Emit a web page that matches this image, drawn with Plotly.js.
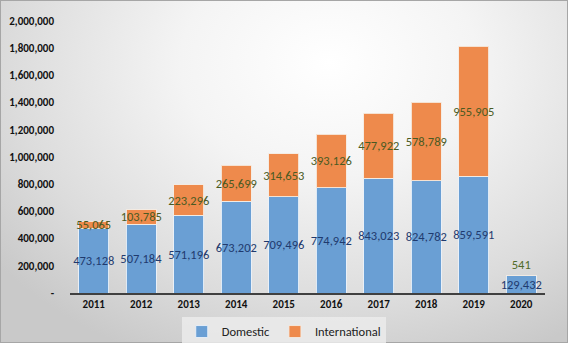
<!DOCTYPE html>
<html>
<head>
<meta charset="utf-8">
<script src="https://cdn.plot.ly/plotly-3.0.1.min.js"></script>
<style>
  html, body { margin: 0; padding: 0; }
  #chart {
    width: 568px; height: 343px; box-sizing: border-box;
    border: 1px solid #a6a6a6;
    background: radial-gradient(ellipse 75% 95% at 58% 18%, #ffffff 0%, #f4f4f4 35%, #dcdcdc 75%, #c9c9c9 100%);
  }
</style>
</head>
<body>
<div id="chart"></div>
<script>
const years = ['2011','2012','2013','2014','2015','2016','2017','2018','2019','2020'];
const domestic = [473128, 507184, 571196, 673202, 709496, 774942, 843023, 824782, 859591, 129432];
const international = [55065, 103785, 223296, 265699, 314653, 393126, 477922, 578789, 955905, 541];
const yTickVals = [0, 200000, 400000, 600000, 800000, 1000000, 1200000, 1400000, 1600000, 1800000, 2000000];
const yTickText = ['-', '200,000', '400,000', '600,000', '800,000', '1,000,000', '1,200,000', '1,400,000', '1,600,000', '1,800,000', '2,000,000'];

const fmt = v => v.toLocaleString('en-US');
const font = 'Carlito, Calibri, "Open Sans", "Liberation Sans", sans-serif';

const traces = [
  {
    type: 'bar', name: 'Domestic', x: years, y: domestic,
    text: domestic.map(fmt), textposition: 'inside', insidetextanchor: 'middle', textangle: 0,
    constraintext: 'none', cliponaxis: false,
    textfont: { family: font, size: 12.5, color: '#1f3a6e' },
    marker: { color: '#6a9fd4', line: { color: 'rgba(235,242,250,0.9)', width: 1 } },
    hoverinfo: 'none'
  },
  {
    type: 'bar', name: 'International', x: years, y: international,
    text: international.map(fmt),
    textposition: international.map((v, i) => i === international.length - 1 ? 'outside' : 'inside'),
    insidetextanchor: 'middle', textangle: 0, constraintext: 'none', cliponaxis: false,
    textfont: { family: font, size: 12.5, color: '#4a5a22' },
    outsidetextfont: { family: font, size: 12.5, color: '#4f6a28' },
    marker: { color: '#ee8a4c', line: { color: 'rgba(245,235,225,0.9)', width: 1 } },
    hoverinfo: 'none'
  }
];

const layout = {
  width: 568, height: 343,
  paper_bgcolor: 'rgba(0,0,0,0)', plot_bgcolor: 'rgba(0,0,0,0)',
  margin: { l: 69, r: 24, t: 20, b: 51, pad: 0, autoexpand: false },
  barmode: 'stack', bargap: 0.37,
  font: { family: font, color: '#1a1a1a' },
  showlegend: true,
  legend: {
    orientation: 'h', x: 0.45, xanchor: 'center', y: -0.088, yanchor: 'top',
    traceorder: 'normal',
    bgcolor: 'rgba(235,235,235,0.85)', font: { family: font, size: 12.5, color: '#222' },
    itemwidth: 30, tracegroupgap: 0
  },
  xaxis: {
    type: 'category', showgrid: false, zeroline: false,
    showline: true, linecolor: '#404040', linewidth: 1.5,
    ticks: '', tickfont: { family: font, size: 11, color: '#111', weight: 'bold' }
  },
  yaxis: {
    range: [0, 2000000], tickvals: yTickVals, ticktext: yTickText,
    showgrid: false, zeroline: false, showline: false, ticks: '',
    ticklabelstandoff: 15,
    tickfont: { family: font, size: 11, color: '#111', weight: 'bold' }
  }
};

Plotly.newPlot('chart', traces, layout, { displayModeBar: false, staticPlot: true });
</script>
</body>
</html>
